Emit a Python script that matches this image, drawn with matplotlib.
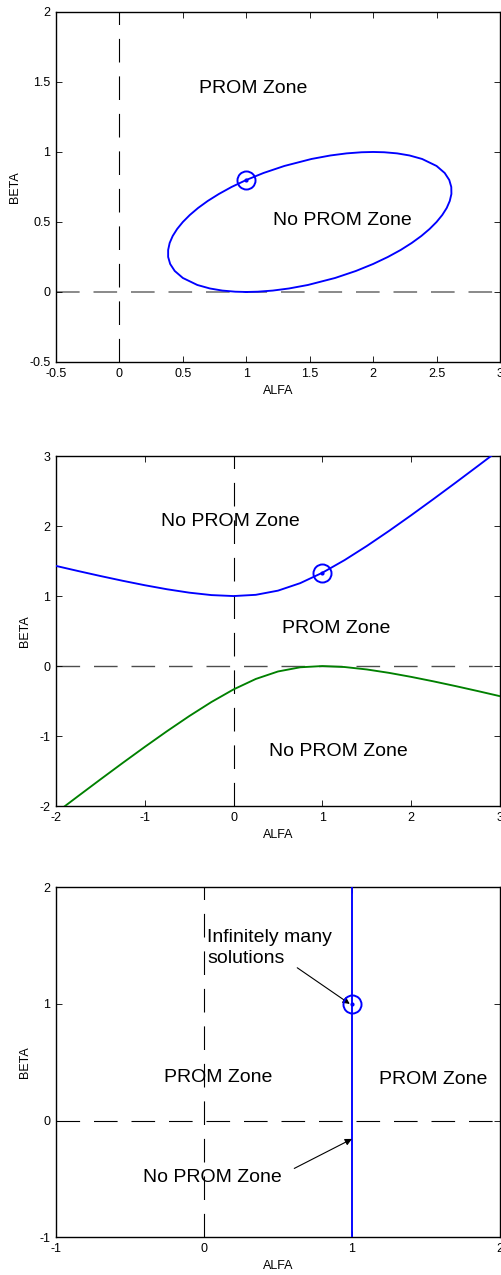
"""
PROM / No PROM zones in the (ALFA, BETA) plane, three cases stacked vertically.
"""
import matplotlib
matplotlib.use("Agg")
import matplotlib.pyplot as plt

plt.rcParams["font.family"] = ["Liberation Sans", "DejaVu Sans"]
plt.rcParams["lines.scale_dashes"] = False

# --- case 1: closed boundary curve ---
ell_alfa = [1.0, 1.091, 1.209, 1.337, 1.486, 1.7, 1.864, 2.0, 2.116, 2.217, 2.304,
            2.38, 2.445, 2.5, 2.545, 2.58, 2.604, 2.617, 2.616, 2.6, 2.564, 2.5,
            2.386, 2.287, 2.189, 2.087, 2.0, 1.909, 1.791, 1.663, 1.514, 1.3, 1.136,
            1.0, 0.884, 0.784, 0.696, 0.62, 0.555, 0.5, 0.455, 0.42, 0.396, 0.384,
            0.384, 0.4, 0.436, 0.5, 0.614, 0.713, 0.811, 0.913, 1.0]
ell_beta = [0.0, 0.002, 0.01, 0.025, 0.05, 0.1, 0.15, 0.2, 0.25, 0.3, 0.35,
            0.4, 0.45, 0.5, 0.55, 0.6, 0.65, 0.7, 0.75, 0.8, 0.85, 0.9,
            0.95, 0.975, 0.99, 0.998, 1.0, 0.998, 0.99, 0.975, 0.95, 0.9, 0.85,
            0.8, 0.75, 0.7, 0.65, 0.6, 0.55, 0.5, 0.45, 0.4, 0.35, 0.3,
            0.25, 0.2, 0.15, 0.1, 0.05, 0.025, 0.01, 0.002, 0.0]
pt1 = (1.0, 0.8)

# --- case 2: upper and lower boundary branches ---
alfa2 = [-2.0, -1.75, -1.5, -1.25, -1.0, -0.75, -0.5, -0.25, 0.0, 0.25, 0.5,
         0.75, 1.0, 1.25, 1.5, 1.75, 2.0, 2.25, 2.5, 2.75, 3.0]
beta2_up = [1.4305, 1.3573, 1.2863, 1.2184, 1.1547, 1.0971, 1.0486, 1.0138, 1.0,
            1.0176, 1.0774, 1.1843, 1.3333, 1.5138, 1.7153, 1.9305, 2.1547,
            2.3850, 2.6196, 2.8573, 3.0972]
beta2_lo = [-2.0972, -1.8573, -1.6196, -1.3850, -1.1547, -0.9305, -0.7153, -0.5138,
            -0.3333, -0.1843, -0.0774, -0.0176, 0.0, -0.0138, -0.0486, -0.0971,
            -0.1547, -0.2184, -0.2863, -0.3573, -0.4305]
pt2 = (1.0, 1.3333)

# --- case 3: vertical boundary ---
line3_alfa = [1.0, 1.0]
line3_beta = [-1.0, 2.0]
pt3 = (1.0, 1.0)

# axis setup per panel: ticks and tick labels
xt1 = [-0.5, 0, 0.5, 1, 1.5, 2, 2.5, 3]
xl1 = ["-0.5", "0", "0.5", "1", "1.5", "2", "2.5", "3"]
yt1 = [-0.5, 0, 0.5, 1, 1.5, 2]
yl1 = ["-0.5", "0", "0.5", "1", "1.5", "2"]
xt2 = [-2, -1, 0, 1, 2, 3]
xl2 = ["-2", "-1", "0", "1", "2", "3"]
yt2 = [-2, -1, 0, 1, 2, 3]
yl2 = ["-2", "-1", "0", "1", "2", "3"]
xt3 = [-1, 0, 1, 2]
xl3 = ["-1", "0", "1", "2"]
yt3 = [-1, 0, 1, 2]
yl3 = ["-1", "0", "1", "2"]

BLUE = (0, 0, 1)
GREEN = (0, 0.5, 0)
DASH = (17, 10)

fig = plt.figure(figsize=(5.01, 12.75), dpi=100)
L, W, H = 56 / 501, 444 / 501, 350 / 1275
ax1 = fig.add_axes([L, 0.7161, W, H])
ax2 = fig.add_axes([L, 0.3678, W, H])
ax3 = fig.add_axes([L, 0.0296, W, H])


def style(ax, xt, xl, yt, yl):
    ax.set_xlim(xt[0], xt[-1])
    ax.set_ylim(yt[0], yt[-1])
    ax.set_xticks(xt)
    ax.set_xticklabels(xl)
    ax.set_yticks(yt)
    ax.set_yticklabels(yl)
    ax.tick_params(direction="in", top=True, right=True, length=4, width=0.6,
                   labelsize=9, pad=4, colors="k")
    for s in ax.spines.values():
        s.set_linewidth(1.0)
    ax.set_xlabel("ALFA", fontsize=9, labelpad=4)
    ax.set_ylabel("BETA", fontsize=9, labelpad=6)


def zero_lines(ax, hcol="k", hlw=0.8):
    ax.axvline(0, color="k", lw=0.8, linestyle=(0, DASH), zorder=1)
    ax.axhline(0, color=hcol, lw=hlw, linestyle=(0, DASH), zorder=1)


def mark(ax, pt, col):
    ax.plot([pt[0]], [pt[1]], "o", ms=13, mfc="none", mec=col, mew=1.4, zorder=4)
    ax.plot([pt[0]], [pt[1]], ".", ms=4, color=col, zorder=4)


# panel 1
style(ax1, xt1, xl1, yt1, yl1)
zero_lines(ax1, hcol="0.5", hlw=1.3)
ax1.plot(ell_alfa, ell_beta, color=BLUE, lw=1.35, zorder=3)
mark(ax1, pt1, BLUE)
ax1.text(0.63, 1.456, "PROM Zone", fontsize=14, va="center")
ax1.text(1.21, 0.51, "No PROM Zone", fontsize=14, va="center")

# panel 2
style(ax2, xt2, xl2, yt2, yl2)
zero_lines(ax2, hcol="0.3", hlw=1.0)
ax2.plot(alfa2, beta2_up, color=BLUE, lw=1.35, zorder=3)
ax2.plot(alfa2, beta2_lo, color=GREEN, lw=1.35, zorder=3)
mark(ax2, pt2, BLUE)
ax2.text(-0.82, 2.07, "No PROM Zone", fontsize=14, va="center")
ax2.text(0.55, 0.53, "PROM Zone", fontsize=14, va="center")
ax2.text(0.40, -1.22, "No PROM Zone", fontsize=14, va="center")

# panel 3
style(ax3, xt3, xl3, yt3, yl3)
zero_lines(ax3)
ax3.plot(line3_alfa, line3_beta, color=BLUE, lw=1.35, zorder=3)
mark(ax3, pt3, BLUE)
ax3.text(-0.27, 0.37, "PROM Zone", fontsize=14, va="center")
ax3.text(1.18, 0.35, "PROM Zone", fontsize=14, va="center")
ax3.text(0.02, 1.48, "Infinitely many\nsolutions", fontsize=14, va="center",
         linespacing=1.3)
ax3.text(-0.41, -0.49, "No PROM Zone", fontsize=14, va="center")
arrow = dict(arrowstyle="-|>", lw=0.8, color="k", mutation_scale=10,
             shrinkA=0, shrinkB=0)
ax3.annotate("", xy=(0.985, 1.0), xytext=(0.63, 1.31), arrowprops=arrow)
ax3.annotate("", xy=(1.0, -0.157), xytext=(0.61, -0.41), arrowprops=arrow)

fig.savefig("out.png", dpi=100)
